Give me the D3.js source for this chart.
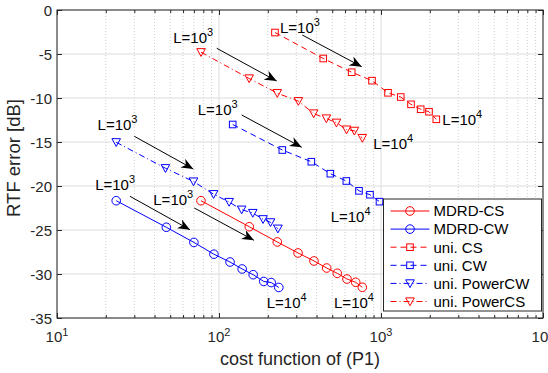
<!DOCTYPE html>
<html><head><meta charset="utf-8">
<script src="https://cdn.jsdelivr.net/npm/d3@7"></script>
<style>
html,body{margin:0;padding:0;background:#fff;}
svg{display:block;font-family:"Liberation Sans",Arial,Helvetica,sans-serif;}
</style></head>
<body>
<svg id="chart" width="548" height="373"></svg>
<script>
// ---- data ----
const xTickExponents = [1, 2, 3, 4];
const yTicks = [0, -5, -10, -15, -20, -25, -30, -35];

const costMDRD_CS = [77.4, 153.8, 229, 307.6, 385.7, 462, 537, 616.6, 698, 767];
const errMDRD_CS  = [-21.67, -24.63, -26.36, -27.61, -28.52, -29.32, -29.92, -30.57, -30.94, -31.51];
const costMDRD_CW = [23.2, 47.3, 70.0, 93.0, 117, 139, 162.5, 189, 210, 234];
const errMDRD_CW  = [-21.67, -24.69, -26.41, -27.75, -28.64, -29.43, -30.08, -30.85, -30.97, -31.53];
const costUniCS   = [221.6, 440, 659, 880, 1105, 1324, 1532, 1758, 1978, 2195];
const errUniCS    = [-2.56, -5.51, -7.07, -8.03, -9.41, -9.89, -10.72, -11.28, -11.56, -12.42];
const costUniCW   = [121.5, 245.9, 371.5, 486.7, 611, 731.5, 855, 979, 1100, 1220];
const errUniCW    = [-13.01, -15.91, -17.24, -18.60, -19.43, -20.55, -20.99, -21.78, -22.4, -23.0];
const costPowerCW = [23.2, 46.7, 69.6, 92.6, 115.5, 138, 161.6, 187, 208, 231];
const errPowerCW  = [-15.03, -17.98, -19.49, -20.93, -21.82, -22.69, -23.07, -23.78, -24.13, -24.85];
const costPowerCS = [77.5, 153.5, 229, 309, 384, 460, 531, 613, 685, 767];
const errPowerCS  = [-4.80, -7.78, -9.45, -10.36, -11.76, -12.33, -12.81, -13.59, -13.73, -14.55];

const seriesNames  = ["MDRD-CS", "MDRD-CW", "uni. CS", "uni. CW", "uni. PowerCW", "uni. PowerCS"];
const seriesColors = ["#ff0000", "#0000ff", "#ff0000", "#0000ff", "#0000ff", "#ff0000"];
const seriesDash   = ["", "", "6,4", "6,4", "6,3,1,3", "6,3,1,3"];
const seriesMarker = ["circle", "circle", "square", "square", "triv", "triv"];
const seriesX = [costMDRD_CS, costMDRD_CW, costUniCS, costUniCW, costPowerCW, costPowerCS];
const seriesY = [errMDRD_CS, errMDRD_CW, errUniCS, errUniCW, errPowerCW, errPowerCS];

// annotations (data units): label "L=10^3" positions and arrows
const startLabelX = [52.2, 238, 73.9, 17.8, 17.2, 39.3];
const startLabelY = [-3.75, -2.61, -11.93, -13.64, -20.45, -22.16];
const arrowFromX  = [96.8, 326.6, 138, 30.0, 28.2, 70.4];
const arrowFromY  = [-4.35, -2.84, -11.93, -14.35, -21.17, -22.5];
const arrowToX    = [227, 760, 324, 69.4, 66.2, 164.4];
const arrowToY    = [-8.07, -6.44, -15.60, -18.07, -24.97, -26.17];
const endLabelX   = [2390, 896, 489, 197, 513];
const endLabelY   = [-13.03, -15.80, -24.09, -33.83, -33.83];

// ---- layout ----
const W = 548, H = 373;
const m = {left: 57, right: 543, top: 10, bottom: 318};
const svg = d3.select("#chart");
const x = d3.scaleLog().domain([10, 10000]).range([m.left, m.right]);
const y = d3.scaleLinear().domain([-35, 0]).range([m.bottom, m.top]);
const axisColor = "#262626";

// grid: minor x (dotted), major x & y (solid)
const minorX = [];
for (let e = 1; e < 4; e++) for (let k = 2; k <= 9; k++) minorX.push(k * Math.pow(10, e));
const g = svg.append("g");
g.selectAll(".mgx").data(minorX).join("line")
  .attr("x1", d => x(d)).attr("x2", d => x(d)).attr("y1", m.top).attr("y2", m.bottom)
  .attr("stroke", "#cfcfcf").attr("stroke-width", 1).attr("stroke-dasharray", "1,2");
g.selectAll(".gx").data(xTickExponents).join("line")
  .attr("x1", d => x(Math.pow(10, d))).attr("x2", d => x(Math.pow(10, d)))
  .attr("y1", m.top).attr("y2", m.bottom).attr("stroke", "#dcdcdc");
g.selectAll(".gy").data(yTicks).join("line")
  .attr("x1", m.left).attr("x2", m.right).attr("y1", d => y(d)).attr("y2", d => y(d))
  .attr("stroke", "#dcdcdc");

// axes via d3 axes (inward ticks)
const xMaj = xTickExponents.map(e => Math.pow(10, e));
const bottomAxis = d3.axisBottom(x).tickValues(xMaj).tickSizeInner(-5).tickSizeOuter(0).tickFormat("");
const bottomMinor = d3.axisBottom(x).tickValues(minorX).tickSizeInner(-3).tickSizeOuter(0).tickFormat("");
const topAxis = d3.axisTop(x).tickValues(xMaj).tickSizeInner(-5).tickSizeOuter(0).tickFormat("");
const topMinor = d3.axisTop(x).tickValues(minorX).tickSizeInner(-3).tickSizeOuter(0).tickFormat("");
const leftAxis = d3.axisLeft(y).tickValues(yTicks).tickSizeInner(-5).tickSizeOuter(0).tickFormat("");
const rightAxis = d3.axisRight(y).tickValues(yTicks).tickSizeInner(-5).tickSizeOuter(0).tickFormat("");
function styleAxis(sel){ sel.selectAll("path,line").attr("stroke", axisColor); sel.select(".domain").remove(); }
svg.append("g").attr("transform", `translate(0,${m.bottom})`).call(bottomAxis).call(styleAxis);
svg.append("g").attr("transform", `translate(0,${m.bottom})`).call(bottomMinor).call(styleAxis);
svg.append("g").attr("transform", `translate(0,${m.top})`).call(topAxis).call(styleAxis);
svg.append("g").attr("transform", `translate(0,${m.top})`).call(topMinor).call(styleAxis);
svg.append("g").attr("transform", `translate(${m.left},0)`).call(leftAxis).call(styleAxis);
svg.append("g").attr("transform", `translate(${m.right},0)`).call(rightAxis).call(styleAxis);
svg.append("rect").attr("x", m.left).attr("y", m.top).attr("width", m.right - m.left)
  .attr("height", m.bottom - m.top).attr("fill", "none").attr("stroke", axisColor).attr("stroke-width", 1);

// tick labels
const tickFont = 15;
xTickExponents.forEach(e => {
  const t = svg.append("text").attr("x", x(Math.pow(10, e))).attr("y", m.bottom + 24)
    .attr("text-anchor", "middle").attr("font-size", tickFont).attr("fill", axisColor);
  t.append("tspan").text("10");
  t.append("tspan").attr("font-size", 11).attr("dy", -6).text(e);
});
svg.selectAll(".ylab").data(yTicks).join("text")
  .attr("x", m.left - 5).attr("y", d => y(d) + 5.5).attr("text-anchor", "end")
  .attr("font-size", tickFont).attr("fill", axisColor).text(d => d);

// axis titles
svg.append("text").attr("x", (m.left + m.right) / 2).attr("y", 365).attr("text-anchor", "middle")
  .attr("font-size", 18).attr("fill", axisColor).text("cost function of (P1)");
svg.append("text").attr("transform", "translate(20,158) rotate(-90)").attr("text-anchor", "middle")
  .attr("font-size", 18.5).attr("fill", axisColor).text("RTF error [dB]");

// markers
function drawMarker(sel, type, color){
  if (type === "circle") {
    sel.append("circle").attr("r", 4.3).attr("fill", "none").attr("stroke", color).attr("stroke-width", 1);
  } else if (type === "square") {
    sel.append("rect").attr("x", -3.3).attr("y", -3.3).attr("width", 6.6).attr("height", 6.6)
      .attr("fill", "none").attr("stroke", color).attr("stroke-width", 1);
  } else {
    sel.append("path").attr("d", "M-4.3,-3.6 L4.3,-3.6 L0,4.2 Z")
      .attr("fill", "none").attr("stroke", color).attr("stroke-width", 1);
  }
}

// series
const plot = svg.append("g");
const line = d3.line().x(d => x(d[0])).y(d => y(d[1]));
seriesNames.forEach((name, i) => {
  const pts = seriesX[i].map((v, j) => [v, seriesY[i][j]]);
  plot.append("path").datum(pts).attr("d", line).attr("fill", "none")
    .attr("stroke", seriesColors[i]).attr("stroke-width", 1)
    .attr("stroke-dasharray", seriesDash[i] || null);
  pts.forEach(p => {
    const mg = plot.append("g").attr("transform", `translate(${x(p[0])},${y(p[1])})`);
    drawMarker(mg, seriesMarker[i], seriesColors[i]);
  });
});

// arrow marker
svg.append("defs").append("marker").attr("id", "ah").attr("viewBox", "0 0 12 10")
  .attr("refX", 12).attr("refY", 5).attr("markerWidth", 12).attr("markerHeight", 10)
  .attr("markerUnits", "userSpaceOnUse").attr("orient", "auto")
  .append("path").attr("d", "M0,0 L12,5 L0,10 L3.5,5 Z").attr("fill", "#000");

const ann = svg.append("g");
arrowFromX.forEach((v, i) => {
  ann.append("line").attr("x1", x(v)).attr("y1", y(arrowFromY[i]))
    .attr("x2", x(arrowToX[i])).attr("y2", y(arrowToY[i]))
    .attr("stroke", "#000").attr("stroke-width", 1).attr("marker-end", "url(#ah)");
});
function supLabel(px, py, base, sup){
  const t = ann.append("text").attr("x", px).attr("y", py).attr("font-size", 15).attr("fill", "#000");
  t.append("tspan").text(base);
  t.append("tspan").attr("font-size", 11).attr("dy", -7).text(sup);
}
startLabelX.forEach((v, i) => supLabel(x(v), y(startLabelY[i]), "L=10", "3"));
endLabelX.forEach((v, i) => supLabel(x(v), y(endLabelY[i]), "L=10", "4"));

// legend
const lg = svg.append("g");
const lx0 = 383.5, ly0 = 199, lw = 158, lh = 112;
lg.append("rect").attr("x", lx0).attr("y", ly0).attr("width", lw).attr("height", lh)
  .attr("fill", "#fff").attr("stroke", axisColor).attr("stroke-width", 1);
seriesNames.forEach((name, i) => {
  const cy = ly0 + 12 + i * 18.1;
  lg.append("line").attr("x1", lx0 + 7).attr("x2", lx0 + 46).attr("y1", cy).attr("y2", cy)
    .attr("stroke", seriesColors[i]).attr("stroke-width", 1)
    .attr("stroke-dasharray", seriesDash[i] || null);
  const mg = lg.append("g").attr("transform", `translate(${lx0 + 26.5},${cy})`);
  drawMarker(mg, seriesMarker[i], seriesColors[i]);
  lg.append("text").attr("x", lx0 + 50).attr("y", cy + 5.3).attr("font-size", 15)
    .attr("fill", "#000").text(name);
});
</script>
</body></html>
